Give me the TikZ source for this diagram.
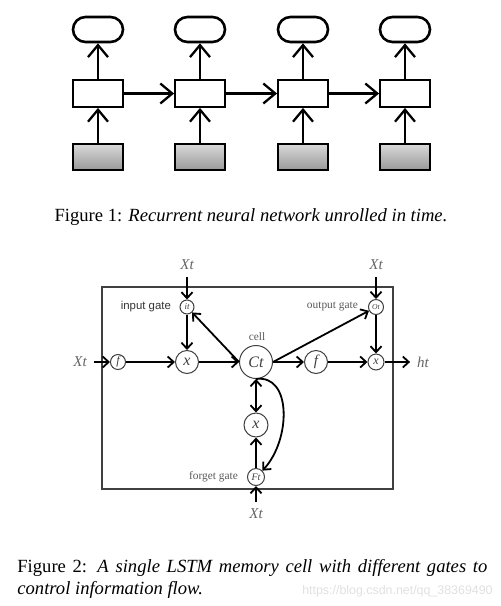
\documentclass[tikz,border=0pt]{standalone}
\usepackage{fontspec}
\setmainfont{Liberation Serif}
\newfontfamily\gatefont{Liberation Sans}
\usepackage{tikz}
\usetikzlibrary{arrows.meta}
\usetikzlibrary{shapes.misc}

\begin{document}
\begin{tikzpicture}[x=0.5pt,y=-0.5pt,
  rnnarrow/.style={line width=1.15pt, -{Straight Barb[length=6pt,width=10pt]}},
  outbox/.style={draw, line width=1.3pt, rounded rectangle, minimum width=25pt, minimum height=12.5pt, inner sep=0pt},
  hidbox/.style={draw, line width=0.9pt, fill=white, minimum width=25pt, minimum height=13.5pt, inner sep=0pt},
  inbox/.style={draw, line width=0.7pt, top color=black!15, bottom color=black!40, minimum width=25pt, minimum height=13pt, inner sep=0pt},
  unit/.style={draw=black!75, line width=0.5pt, circle, inner sep=0pt, fill=white, text=black!75},
  lstmarrow/.style={line width=0.9pt, -{Straight Barb[length=3pt,width=5.5pt]}},
  lstmboth/.style={line width=0.9pt, {Straight Barb[length=3pt,width=5.5pt]}-{Straight Barb[length=3pt,width=5.5pt]}},
  sig/.style={text=black!60, font=\fontsize{7.5}{8}\selectfont\itshape},
  tag/.style={text=black!65, font=\fontsize{5.7}{6}\selectfont}]
\useasboundingbox (0,0) rectangle (500,606);

% figure 1: rnn unrolled
\node[outbox] (y1) at (98,29.5) {};
\node[outbox] (y2) at (200,29.5) {};
\node[outbox] (y3) at (303,29.5) {};
\node[outbox] (y4) at (405,29.5) {};

\node[hidbox] (h1) at (98,93.5) {};
\node[hidbox] (h2) at (200,93.5) {};
\node[hidbox] (h3) at (303,93.5) {};
\node[hidbox] (h4) at (405,93.5) {};

\node[inbox] (u1) at (98,157) {};
\node[inbox] (u2) at (200,157) {};
\node[inbox] (u3) at (303,157) {};
\node[inbox] (u4) at (405,157) {};

\draw [rnnarrow] (u1) to (h1);
\draw [rnnarrow] (u2) to (h2);
\draw [rnnarrow] (u3) to (h3);
\draw [rnnarrow] (u4) to (h4);

\draw [rnnarrow] (h1) to (y1);
\draw [rnnarrow] (h2) to (y2);
\draw [rnnarrow] (h3) to (y3);
\draw [rnnarrow] (h4) to (y4);

\draw [rnnarrow] (h1) to (h2);
\draw [rnnarrow] (h2) to (h3);
\draw [rnnarrow] (h3) to (h4);

\node[anchor=base, font=\fontsize{9.3}{11}\selectfont] (cap1) at (251,221) {Figure 1: \textit{Recurrent neural network unrolled in time.}};

% figure 2: lstm cell
\draw[draw=black!75, line width=0.6pt] (102,287) rectangle (393,489);

\node[unit, minimum size=7pt, font=\fontsize{4.5}{5}\selectfont\itshape] (ig) at (187,307) {it};
\node[unit, minimum size=7.5pt, font=\fontsize{3.8}{4}\selectfont\itshape] (og) at (376,307) {Ot};
\node[unit, minimum size=7.5pt, font=\fontsize{6}{6}\selectfont\itshape] (fl) at (118,362) {f};
\node[unit, minimum size=11.5pt, font=\fontsize{8}{8}\selectfont\itshape] (m1) at (187,362) {x};
\node[unit, minimum size=16.5pt, font=\fontsize{8}{8}\selectfont\itshape] (c) at (256,362) {Ct};
\node[unit, minimum size=11.5pt, font=\fontsize{7.5}{8}\selectfont\itshape] (fr) at (316,362) {f};
\node[unit, minimum size=8pt, font=\fontsize{6}{6}\selectfont\itshape] (m2) at (376,362) {x};
\node[unit, minimum size=12pt, font=\fontsize{8}{8}\selectfont\itshape] (m3) at (256,425) {x};
\node[unit, minimum size=8.5pt, font=\fontsize{5}{5}\selectfont\itshape] (fg) at (256,477) {Ft};

\node[sig] (xi) at (187,265) {Xt};
\node[sig] (xo) at (376,265) {Xt};
\node[sig] (xl) at (80,362) {Xt};
\node[sig] (xf) at (256,514) {Xt};
\node[sig] (ht) at (423,362) {ht};

\node[tag, anchor=east, font=\fontsize{5.7}{6}\selectfont\gatefont, text=black!80] (igl) at (178,307) {input gate};
\node[tag, anchor=east] (ogl) at (365,307) {output gate};
\node[tag, anchor=east] (fgl) at (245,477) {forget gate};
\node[tag] (cl) at (257,337) {cell};

\draw [lstmarrow] (xi) to (ig);
\draw [lstmarrow] (ig) to (m1);
\draw [lstmarrow] (c.west) to (ig);
\draw [lstmarrow] (xl) to (fl);
\draw [lstmarrow] (fl) to (m1);
\draw [lstmarrow] (m1) to (c);
\draw [lstmarrow] (c.east) to (og);
\draw [lstmarrow] (c) to (fr);
\draw [lstmarrow] (fr) to (m2);
\draw [lstmarrow] (xo) to (og);
\draw [lstmarrow] (og) to (m2);
\draw [lstmarrow] (m2) to (ht);
\draw [lstmboth] (c) to (m3);
\draw [lstmarrow] (fg) to (m3);
\draw [lstmarrow] (xf) to (fg);
\draw [lstmarrow] (c.south) .. controls (292,374) and (291,440) .. (fg.north east);

\node[anchor=north west, inner sep=0pt, text width=235pt, align=justify, font=\fontsize{9.3}{11}\selectfont] (cap2) at (17,559) {Figure 2: \textit{A single LSTM memory cell with different gates to control information flow.}};
\node[anchor=base east, inner sep=0pt, text=black!12, font=\fontsize{6.2}{7}\selectfont\gatefont] (wm) at (493,594) {https://blog.csdn.net/qq\_38369490};
\end{tikzpicture}
\end{document}
